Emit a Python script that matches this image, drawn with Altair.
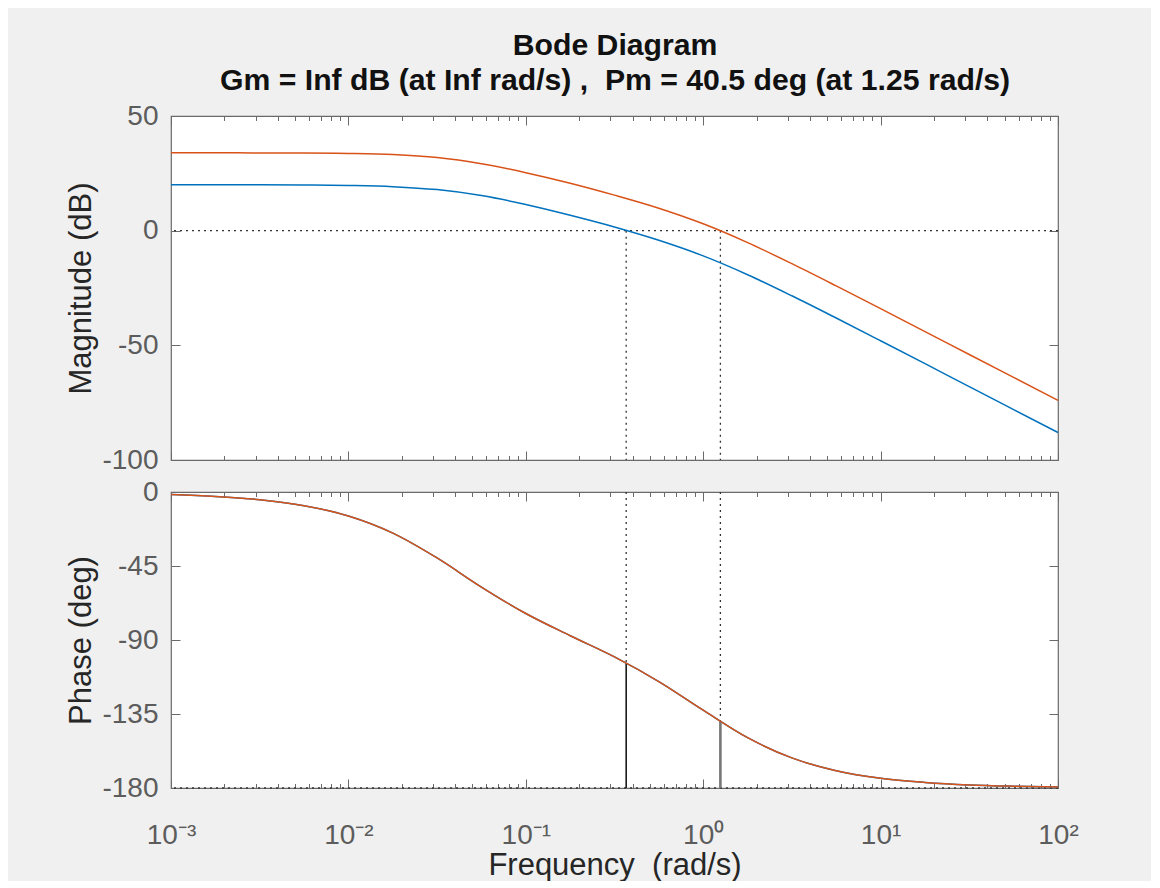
import altair as alt
import pandas as pd

# ---------------- data ----------------
freq = [0.001, 0.00178, 0.00316, 0.00562, 0.01, 0.0178, 0.0316, 0.0562, 0.1, 0.178,
        0.316, 0.562, 1.0, 1.78, 3.16, 5.62, 10.0, 17.8, 31.6, 56.2, 100.0]
mag_blue = [20.0, 20.0, 20.0, 19.9, 19.7, 19.2, 17.9, 15.3, 11.4, 6.7,
            1.6, -4.2, -11.0, -19.2, -28.4, -38.1, -48.0, -58.0, -68.0, -78.0, -88.0]
mag_orange = [34.0, 34.0, 33.9, 33.9, 33.7, 33.2, 31.9, 29.2, 25.3, 20.7,
              15.5, 9.8, 3.0, -5.2, -14.4, -24.1, -34.0, -44.0, -54.0, -64.0, -74.0]
phase = [-1.5, -2.7, -4.7, -8.3, -14.6, -25.0, -40.1, -57.8, -73.9, -87.4,
         -100.3, -115.3, -132.7, -149.4, -161.7, -169.5, -174.1, -176.6, -178.1, -178.9, -179.4]

xover_freq = [0.368, 1.25]          # gain crossover frequencies (blue, orange)
xover_phase = [-104.0, -139.5]      # phase at those frequencies

x_major = [0.001, 0.01, 0.1, 1, 10, 100]
x_labels = ["10⁻³", "10⁻²", "10⁻¹", "10⁰", "10¹", "10²"]
x_all_ticks = [round(k * d, 6) for d in [0.001, 0.01, 0.1, 1, 10] for k in range(1, 10)] + [100]
mag_ticks = [-100, -50, 0, 50]
phase_ticks = [-180, -135, -90, -45, 0]
mag_domain = [-100, 50]
phase_domain = [-180, 0]

NB = "\u00a0"
title_lines = ["Bode Diagram",
               "Gm = Inf dB (at Inf rad/s) ," + NB + " Pm = 40.5 deg (at 1.25 rad/s)"]
mag_title = "Magnitude (dB)"
phase_title = "Phase (deg)"
freq_title = "Frequency" + NB + " (rad/s)"

# ---------------- styling ----------------
W, H1, H2 = 887, 344, 296
FONT = "Liberation Sans"
AXIS_GRAY = "#6a6a6a"
LABEL_GRAY = "#5c5c5c"
TEXT_DARK = "#262626"
BLUE = "#0072BD"
ORANGE = "#D95319"
DOT = [2, 4]

n = len(freq)
mag_df = pd.DataFrame({"freq": freq * 2, "val": mag_blue + mag_orange,
                       "series": ["blue"] * n + ["orange"] * n})
ph_blue_df = pd.DataFrame({"freq": freq, "val": phase, "series": ["blue"] * n})
ph_orange_df = pd.DataFrame({"freq": freq, "val": phase, "series": ["orange"] * n})
xo_df = pd.DataFrame({"freq": xover_freq, "ph": xover_phase,
                      "top_mag": [0, 0], "bot_mag": [mag_domain[0]] * 2,
                      "top_ph": [phase_domain[1]] * 2, "bot_ph": [phase_domain[0]] * 2})
xo_blue = xo_df.iloc[[0]]
xo_orange = xo_df.iloc[[1]]
zero_df = pd.DataFrame({"val": [0]})
floor_df = pd.DataFrame({"val": [phase_domain[0]]})

xscale = alt.Scale(type="log", domain=[0.001, 100], nice=False)
mag_scale = alt.Scale(domain=mag_domain, nice=False, zero=False)
ph_scale = alt.Scale(domain=phase_domain, nice=False, zero=False)
color_scale = alt.Scale(domain=["blue", "orange"], range=[BLUE, ORANGE])

major_test = "abs(log(datum.value)/LN10 - round(log(datum.value)/LN10)) < 0.001"
x_tick_size = {"condition": {"test": major_test, "value": 9}, "value": 4.5}
label_expr = "[" + ",".join("'%s'" % s for s in x_labels) + "][round(log(datum.value)/LN10) + 3]"


def x_tick_axis(orient, H):
    return alt.Axis(orient=orient, offset=-H, values=x_all_ticks, labels=False, domain=False,
                    ticks=True, tickSize=x_tick_size, tickColor=AXIS_GRAY, tickWidth=1,
                    grid=False, title=None)


def y_tick_axis(orient, vals):
    return alt.Axis(orient=orient, offset=-W, values=vals, labels=False, domain=False,
                    ticks=True, tickSize=9, tickColor=AXIS_GRAY, tickWidth=1,
                    grid=False, title=None)


def y_label_axis(vals, title):
    return alt.Axis(orient="left", values=vals, ticks=False, domain=False, grid=False,
                    labelExpr="'' + datum.value",
                    labelFont=FONT, labelFontSize=28, labelColor=LABEL_GRAY, labelPadding=13,
                    title=title, titleFont=FONT, titleFontSize=31, titleFontWeight="normal",
                    titleColor=TEXT_DARK, titlePadding=4)


# ---------------- magnitude panel ----------------
mag_lines = alt.Chart(mag_df).mark_line(strokeWidth=1.5, interpolate="monotone").encode(
    x=alt.X("freq:Q", scale=xscale, axis=x_tick_axis("bottom", H1)),
    y=alt.Y("val:Q", scale=mag_scale, axis=y_label_axis(mag_ticks, mag_title)),
    color=alt.Color("series:N", scale=color_scale, legend=None),
)
mag_vrules = alt.Chart(xo_df).mark_rule(color="#333333", strokeDash=DOT, strokeWidth=1.3).encode(
    x=alt.X("freq:Q", scale=xscale, axis=x_tick_axis("top", H1)),
    y=alt.Y("top_mag:Q", scale=mag_scale, axis=y_tick_axis("left", mag_ticks)),
    y2="bot_mag:Q",
)
mag_hrule = alt.Chart(zero_df).mark_rule(color="#333333", strokeDash=DOT, strokeWidth=1.3).encode(
    y=alt.Y("val:Q", scale=mag_scale, axis=y_tick_axis("right", mag_ticks)),
)
mag_panel = alt.layer(mag_hrule, mag_vrules, mag_lines).resolve_axis(x="independent", y="independent") \
    .properties(width=W, height=H1)

# ---------------- phase panel ----------------
ph_line_b = alt.Chart(ph_blue_df).mark_line(strokeWidth=1.5, interpolate="monotone").encode(
    x=alt.X("freq:Q", scale=xscale,
            axis=alt.Axis(orient="bottom", values=x_major, ticks=False, domain=False, grid=False,
                          labelExpr=label_expr, labelFont=FONT, labelFontSize=28,
                          labelColor=LABEL_GRAY, labelPadding=33, labelFlush=False,
                          labelOverlap=False,
                          title=freq_title, titleFont=FONT, titleFontSize=31,
                          titleFontWeight="normal", titleColor=TEXT_DARK, titlePadding=1)),
    y=alt.Y("val:Q", scale=ph_scale, axis=y_label_axis(phase_ticks, phase_title)),
    color=alt.Color("series:N", scale=color_scale, legend=None),
)
ph_line_o = alt.Chart(ph_orange_df).mark_line(strokeWidth=1.5, interpolate="monotone").encode(
    x=alt.X("freq:Q", scale=xscale, axis=None),
    y=alt.Y("val:Q", scale=ph_scale, axis=None),
    color=alt.Color("series:N", scale=color_scale, legend=None),
)
ph_dotted = alt.Chart(xo_df).mark_rule(color="#333333", strokeDash=DOT, strokeWidth=1.3).encode(
    x=alt.X("freq:Q", scale=xscale, axis=x_tick_axis("bottom", H2)),
    y=alt.Y("top_ph:Q", scale=ph_scale, axis=y_tick_axis("left", phase_ticks)),
    y2="ph:Q",
)
ph_solid_b = alt.Chart(xo_blue).mark_rule(color="#1a1a1a", strokeWidth=1.6).encode(
    x=alt.X("freq:Q", scale=xscale, axis=x_tick_axis("top", H2)),
    y=alt.Y("ph:Q", scale=ph_scale, axis=y_tick_axis("right", phase_ticks)),
    y2="bot_ph:Q",
)
ph_solid_o = alt.Chart(xo_orange).mark_rule(color="#777777", strokeWidth=2.6).encode(
    x=alt.X("freq:Q", scale=xscale, axis=None),
    y=alt.Y("ph:Q", scale=ph_scale, axis=None),
    y2="bot_ph:Q",
)
ph_floor = alt.Chart(floor_df).mark_rule(color="#333333", strokeDash=DOT, strokeWidth=1.3).encode(
    y=alt.Y("val:Q", scale=ph_scale, axis=None),
)
ph_panel = alt.layer(ph_floor, ph_dotted, ph_solid_b, ph_solid_o, ph_line_b, ph_line_o) \
    .resolve_axis(x="independent", y="independent").properties(width=W, height=H2)

chart = alt.vconcat(mag_panel, ph_panel, spacing=32, bounds="flush").properties(
    title=alt.TitleParams(text=title_lines, font=FONT, fontSize=30.2, fontWeight="bold",
                          color="#111111", anchor="middle", lineHeight=35, offset=5, dx=43),
    padding={"left": 57, "top": 23, "right": 72, "bottom": 0},
    background="#f0f0f0",
).configure_view(stroke=AXIS_GRAY, strokeWidth=1.2, fill="white")

chart.save("out.html", embed_options={"renderer": "svg", "actions": False})
